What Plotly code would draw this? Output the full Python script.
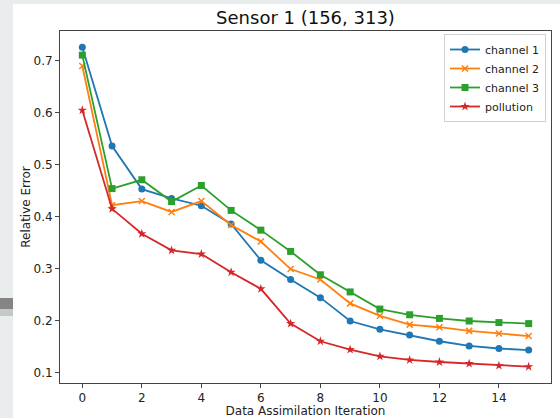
import plotly.graph_objects as go

iterations = list(range(16))
channel_1 = [0.726, 0.536, 0.453, 0.435, 0.421, 0.386, 0.316, 0.279, 0.244, 0.199,
             0.183, 0.172, 0.160, 0.151, 0.146, 0.143]
channel_2 = [0.690, 0.422, 0.430, 0.409, 0.430, 0.384, 0.352, 0.299, 0.279, 0.233,
             0.209, 0.192, 0.187, 0.180, 0.175, 0.170]
channel_3 = [0.711, 0.454, 0.471, 0.429, 0.460, 0.412, 0.374, 0.333, 0.288, 0.255,
             0.222, 0.211, 0.204, 0.199, 0.196, 0.194]
pollution = [0.605, 0.415, 0.367, 0.335, 0.328, 0.293, 0.261, 0.194, 0.160, 0.144,
             0.131, 0.124, 0.120, 0.117, 0.113, 0.111]

series = [
    ("channel 1", channel_1, "#1f77b4", "circle", 7),
    ("channel 2", channel_2, "#ff7f0e", "x-thin", 6),
    ("channel 3", channel_3, "#2ca02c", "square", 7),
    ("pollution", pollution, "#d62728", "star", 7),
]

W, H = 560, 418
L, R, T, B = 60, 9, 31, 35
PW, PH = W - L - R, H - T - B


def px_x(p):
    return (p - L) / PW


def px_y(p):
    return (H - B - p) / PH


fig = go.Figure()
for name, vals, color, sym, size in series:
    marker = dict(symbol=sym, size=size, color=color)
    if sym == "x-thin":
        marker["line"] = dict(color=color, width=1.5)
    fig.add_trace(go.Scatter(
        x=iterations, y=vals, name=name, mode="lines+markers",
        line=dict(color=color, width=1.8), marker=marker,
    ))

bg = "#e9edee"
shapes = [
    dict(type="rect", xref="paper", yref="paper", layer="below",
         x0=px_x(0), x1=px_x(13), y0=px_y(0), y1=px_y(H), fillcolor=bg, line_width=0),
    dict(type="rect", xref="paper", yref="paper", layer="below",
         x0=px_x(0), x1=px_x(W), y0=px_y(0), y1=px_y(4), fillcolor=bg, line_width=0),
    dict(type="rect", xref="paper", yref="paper", layer="below",
         x0=px_x(0), x1=px_x(13), y0=px_y(298), y1=px_y(309), fillcolor="#858585", line_width=0),
    dict(type="rect", xref="paper", yref="paper", layer="below",
         x0=px_x(0), x1=px_x(13), y0=px_y(309), y1=px_y(316), fillcolor="#c5c9ca", line_width=0),
]

font = "DejaVu Sans"
axis_common = dict(
    showgrid=False, zeroline=False, showline=True, linecolor="#444", linewidth=1,
    mirror=True, ticks="outside", ticklen=4, tickcolor="#444", tickwidth=1,
    tickfont=dict(family=font, size=12, color="#222"), automargin=False,
)

fig.update_layout(
    width=W, height=H,
    margin=dict(l=L, r=R, t=T, b=B),
    paper_bgcolor="white", plot_bgcolor="white",
    shapes=shapes,
    title=dict(text="Sensor 1 (156, 313)", x=0.5, xref="paper", xanchor="center",
               y=1 - 18 / H, yref="container", yanchor="middle",
               font=dict(family=font, size=18, color="#111")),
    xaxis=dict(range=[-0.75, 15.75], tickvals=list(range(0, 15, 2)),
               title=dict(text="Data Assimilation Iteration", standoff=4,
                          font=dict(family=font, size=12, color="#222")),
               **axis_common),
    yaxis=dict(range=[0.0796, 0.7575], dtick=0.1, tick0=0, tickformat=".1f",
               title=dict(text="Relative Error", standoff=0,
                          font=dict(family=font, size=12, color="#222")),
               **axis_common),
    legend=dict(x=px_x(546), y=px_y(34), xanchor="right", yanchor="top",
                bgcolor="white", bordercolor="#d0d0d0", borderwidth=1,
                font=dict(family=font, size=11, color="#222"),
                itemwidth=30, tracegroupgap=0),
    showlegend=True,
)

fig.write_html("out.html")
